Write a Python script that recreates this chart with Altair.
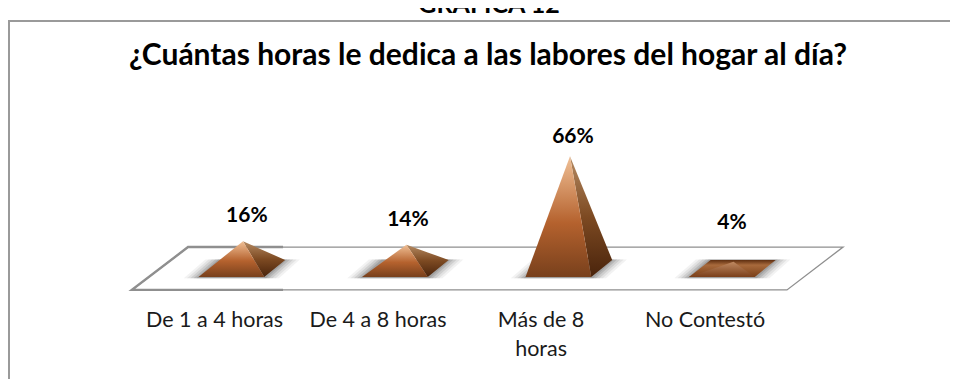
import altair as alt
import pandas as pd

categories = ["De 1 a 4 horas", "De 4 a 8 horas", "Más de 8\nhoras", "No Contestó"]
values = [16, 14, 66, 4]
labels = ["16%", "14%", "66%", "4%"]
chart_title = "¿Cuántas horas le dedica a las labores del hogar al día?"
top_caption = "GRÁFICA 12"

FONT = "Lato"
XS = alt.Scale(domain=[-1.437, 4.324], nice=False, zero=False)
YS = alt.Scale(domain=[-65, 153.2], nice=False, zero=False)
X = alt.X("x:Q", scale=XS, axis=None)
Y = alt.Y("y:Q", scale=YS, axis=None)
Y2 = alt.Y2("y2:Q")


def polygon(points):
    """Convex polygon -> rows for an area mark (upper and lower edge per x)."""
    n = len(points)
    rows = []
    for vx in sorted({p[0] for p in points}):
        ys = []
        for i in range(n):
            (ax, ay), (bx, by) = points[i], points[(i + 1) % n]
            if min(ax, bx) <= vx <= max(ax, bx):
                if ax == bx:
                    ys += [ay, by]
                else:
                    ys.append(ay + (by - ay) * (vx - ax) / (bx - ax))
        rows.append({"x": vx, "y": max(ys), "y2": min(ys)})
    return pd.DataFrame(rows)


def grad(stops):
    return alt.Gradient(
        gradient="linear", x1=0, x2=0, y1=0, y2=1,
        stops=[alt.GradientStop(offset=o, color=c) for o, c in stops],
    )


def area(points, **mark):
    return alt.Chart(polygon(points)).mark_area(**mark).encode(x=X, y=Y, y2=Y2)


def path(points, width, color="#8f8f8f"):
    df = pd.DataFrame(points, columns=["x", "y"]).assign(o=range(len(points)))
    return alt.Chart(df).mark_line(color=color, strokeWidth=width).encode(
        x=X, y=Y, order="o:Q"
    )


FRONT = grad([(0, "#f0c096"), (0.55, "#b5622e"), (1, "#78401c")])
SIDE = grad([(0, "#b58a62"), (0.5, "#7d4a22"), (1, "#4a240c")])

# pyramid footprint: offsets from the apex in category units / value units
FL, FR, BR, BL = -0.272, 0.130, 0.258, -0.140
YF, YB = -5.0, 5.0

layers = []

# frame
frame_df = pd.DataFrame({"a": [0]})
layers.append(alt.Chart(frame_df).mark_rule(color="#9a9a9a", strokeWidth=2).encode(
    x=alt.value(0), x2=alt.value(942), y=alt.value(13)))
layers.append(alt.Chart(frame_df).mark_rule(color="#9a9a9a", strokeWidth=2).encode(
    x=alt.value(1), y=alt.value(13), y2=alt.value(371)))

# floor
fl, bl, br, fr = (-0.679, -12.6), (-0.336, 12.6), (3.67, 12.6), (3.327, -12.6)
layers.append(path([fl, bl, br, fr, fl], 1.3))
layers.append(path([(0.245, -12.6), fl, bl, (0.245, 12.6)], 2.4))

for k, v in enumerate(values):
    f_l, f_r = (k + FL, YF), (k + FR, YF)
    b_r, b_l = (k + BR, YB), (k + BL, YB)
    apex = (k, v)
    # soft shadow
    for grow, op in [(0.09, 0.08), (0.07, 0.10), (0.05, 0.14), (0.03, 0.18), (0.012, 0.22)]:
        layers.append(area(
            [(f_l[0] - grow, YF - 0.8), (f_r[0] + grow, YF - 0.8),
             (b_r[0] + grow, YB + 0.3), (b_l[0] - grow, YB + 0.3)],
            color="#555555", opacity=op))
    if v < YB + 2:
        layers.append(area([f_l, f_r, b_r, b_l],
                           color=grad([(0, "#5e2e10"), (0.3, "#a86a3c"), (1, "#7a4018")])))
        layers.append(area([f_l, f_r, apex], color=grad([(0, "#c08a62"), (1, "#7a3f1a")])))
    else:
        layers.append(area([apex, f_r, b_r], color=SIDE))
        layers.append(area([f_l, f_r, apex], color=FRONT))

# data labels
label_rise = [14.9, 14.5, 11.35, 22.8]
label_df = pd.DataFrame({
    "x": [k + d for k, d in enumerate([0.024, 0.009, 0.018, -0.009])],
    "y": [v + r for v, r in zip(values, label_rise)],
    "t": labels,
})
layers.append(alt.Chart(label_df).mark_text(
    font=FONT, fontSize=21, fontWeight="bold", color="#000000", baseline="middle"
).encode(x=X, y=Y, text="t:N"))

# category labels
cat_df = pd.DataFrame({
    "x": [-0.174, 0.826, 1.823, 2.826],
    "y": [-30.9] * 4,
    "t": categories,
})
layers.append(alt.Chart(cat_df).mark_text(
    font=FONT, fontSize=21.5, color="#1a1a1a", baseline="middle",
    lineBreak="\n", lineHeight=29,
).encode(x=X, y=Y, text="t:N"))

# title and cropped caption
title_df = pd.DataFrame({"t": [chart_title]})
layers.append(alt.Chart(title_df).mark_text(
    font=FONT, fontSize=30, fontWeight="bold", color="#000000", baseline="alphabetic"
).encode(x=alt.value(480), y=alt.value(57), text="t:N"))
cap_df = pd.DataFrame({"t": [top_caption]})
layers.append(alt.Chart(cap_df).mark_text(
    font=FONT, fontSize=25, fontWeight="bold", color="#000000", baseline="alphabetic"
).encode(x=alt.value(481), y=alt.value(5), text="t:N"))

chart = alt.layer(*layers).properties(
    width=942, height=371, padding=0, autosize="none", background="white"
).configure_view(stroke=None)

chart.save("out.html", embed_options={"renderer": "svg", "actions": False})
